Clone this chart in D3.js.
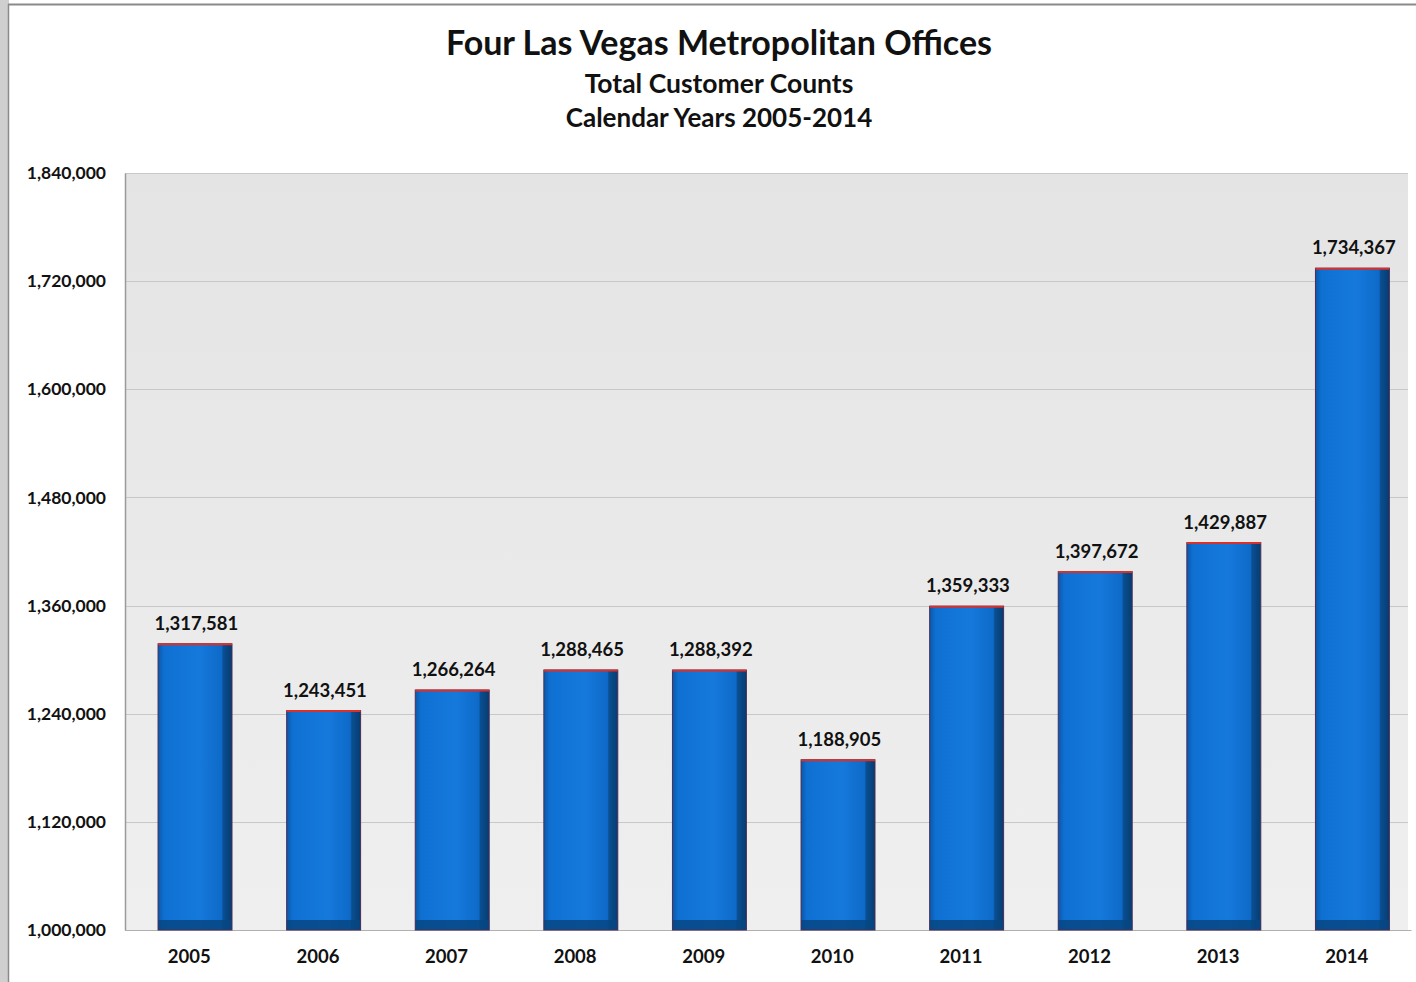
<!DOCTYPE html>
<html lang="en">
<head>
<meta charset="utf-8">
<title>Four Las Vegas Metropolitan Offices</title>
<script src="https://d3js.org/d3.v7.min.js"></script>
<style>
  body { margin: 0; background: #ffffff; }
  svg text { font-family: Lato, "Open Sans", sans-serif; fill: #111; }
</style>
</head>
<body>
<div id="chart"></div>
<script type="text/javascript">
	// data
	var years = ['2005', '2006', '2007', '2008', '2009', '2010', '2011', '2012', '2013', '2014'];
	var counts = [1317581, 1243451, 1266264, 1288465, 1288392, 1188905, 1359333, 1397672, 1429887, 1734367];
	var y_ticks = [1000000, 1120000, 1240000, 1360000, 1480000, 1600000, 1720000, 1840000];
	var titles = ['Four Las Vegas Metropolitan Offices', 'Total Customer Counts', 'Calendar Years 2005-2014'];

	var W = 1416, H = 982;
	var margin = {top: 173, right: 8, bottom: 52, left: 125},
		width = W - margin.left - margin.right,
		height = H - margin.top - margin.bottom;

	var svg = d3.select("#chart")
		.append("svg")
		.attr("width", W)
		.attr("height", H);

	var defs = svg.append("defs");
	var bg = defs.append("linearGradient").attr("id", "plotbg").attr("x1", 0).attr("y1", 0).attr("x2", 0).attr("y2", 1);
	bg.append("stop").attr("offset", "0%").attr("stop-color", "#e4e4e4");
	bg.append("stop").attr("offset", "100%").attr("stop-color", "#efefef");

	var barGrad = defs.append("linearGradient").attr("id", "barfill").attr("x1", 0).attr("y1", 0).attr("x2", 1).attr("y2", 0);
	barGrad.append("stop").attr("offset", "0%").attr("stop-color", "#0a58a8");
	barGrad.append("stop").attr("offset", "8%").attr("stop-color", "#0f70d2");
	barGrad.append("stop").attr("offset", "55%").attr("stop-color", "#1579dc");
	barGrad.append("stop").attr("offset", "86%").attr("stop-color", "#0e6ac8");
	barGrad.append("stop").attr("offset", "88%").attr("stop-color", "#0a4f92");
	barGrad.append("stop").attr("offset", "100%").attr("stop-color", "#063c70");

	// outer frame
	svg.append("rect").attr("x", 0).attr("y", 0).attr("width", 9).attr("height", H).style("fill", "#cfcfcf");
	svg.append("line").attr("x1", 8).attr("x2", W).attr("y1", 4.5).attr("y2", 4.5)
		.style("stroke", "#8a8a8a").style("stroke-width", 2);
	svg.append("line").attr("x1", 8.5).attr("x2", 8.5).attr("y1", 4).attr("y2", H)
		.style("stroke", "#8a8a8a").style("stroke-width", 1.5);

	// titles
	var title_y = [55, 93, 127], title_size = [34, 26.5, 26];
	for (var i=0;i<titles.length;i++){
		svg.append("text")
			.attr("x", 719)
			.attr("y", title_y[i])
			.attr("text-anchor", "middle")
			.style("font-size", title_size[i] + "px")
			.style("font-weight", "bold")
			.text(titles[i]);
	}

	var g = svg.append("g")
		.attr("transform", "translate(" + margin.left + "," + margin.top + ")");

	var x = d3.scaleBand()
		.domain(years)
		.range([0, 1286]);
	var y = d3.scaleLinear()
		.domain([1000000, 1840000])
		.range([height, 0]);

	// plot background
	g.append("rect")
		.attr("width", width)
		.attr("height", height)
		.style("fill", "url(#plotbg)");

	// gridlines
	g.selectAll(".grid")
		.data(y_ticks)
		.enter().append("line")
		.attr("x1", 0).attr("x2", width)
		.attr("y1", function(d){ return Math.round(y(d)) + 0.5; })
		.attr("y2", function(d){ return Math.round(y(d)) + 0.5; })
		.style("stroke", "#c8c8c8")
		.style("stroke-width", 1.2);

	// Y axis
	var yAxis = d3.axisLeft(y)
		.tickValues(y_ticks)
		.tickSize(0)
		.tickPadding(19)
		.tickFormat(d3.format(","));
	var ya = g.append("g").call(yAxis);
	ya.select(".domain").style("stroke", "#9a9a9a").style("stroke-width", 1.5);
	ya.selectAll("text")
		.style("font-size", "17.5px")
		.style("font-weight", "bold")
		.style("font-family", "Lato, sans-serif")
		.style("fill", "#111");

	// X axis
	var xAxis = d3.axisBottom(x).tickSize(0).tickPadding(20);
	var xa = g.append("g").attr("transform", "translate(0," + height + ")").call(xAxis);
	xa.select(".domain").style("stroke", "#b0b0b0");
	xa.selectAll("text")
		.style("font-size", "18.5px")
		.style("font-weight", "bold")
		.style("font-family", "Lato, sans-serif")
		.style("fill", "#111");

	// bars
	var bw = x.bandwidth() * 0.575,
		bx = function(d, i){ return x(years[i]) + x.bandwidth() * 0.257; };

	var bars = g.selectAll(".bar")
		.data(counts)
		.enter().append("g")
		.attr("class", "bar");

	bars.append("rect")
		.attr("x", bx)
		.attr("y", function(d){ return y(d); })
		.attr("width", bw)
		.attr("height", function(d){ return height - y(d); })
		.style("fill", "url(#barfill)");

	// darker base
	bars.append("rect")
		.attr("x", bx)
		.attr("y", height - 10)
		.attr("width", bw)
		.attr("height", 10)
		.style("fill", "#064683")
		.style("opacity", 0.85);

	// outline
	bars.append("rect")
		.attr("x", bx)
		.attr("y", function(d){ return y(d); })
		.attr("width", bw)
		.attr("height", function(d){ return height - y(d); })
		.style("fill", "none")
		.style("stroke", "#4a2f5a")
		.style("stroke-width", 1);

	// red top edge
	bars.append("line")
		.attr("x1", bx)
		.attr("x2", function(d, i){ return bx(d, i) + bw; })
		.attr("y1", function(d){ return y(d) + 0.5; })
		.attr("y2", function(d){ return y(d) + 0.5; })
		.style("stroke", "#d9302a")
		.style("stroke-width", 2);

	// value labels
	bars.append("text")
		.attr("x", function(d, i){ return x(years[i]) + x.bandwidth() * 0.555; })
		.attr("y", function(d){ return y(d) - 14; })
		.attr("text-anchor", "middle")
		.style("font-size", "18.5px")
		.style("font-weight", "bold")
		.text(function(d){ return d3.format(",")(d); });
</script>
</body>
</html>
